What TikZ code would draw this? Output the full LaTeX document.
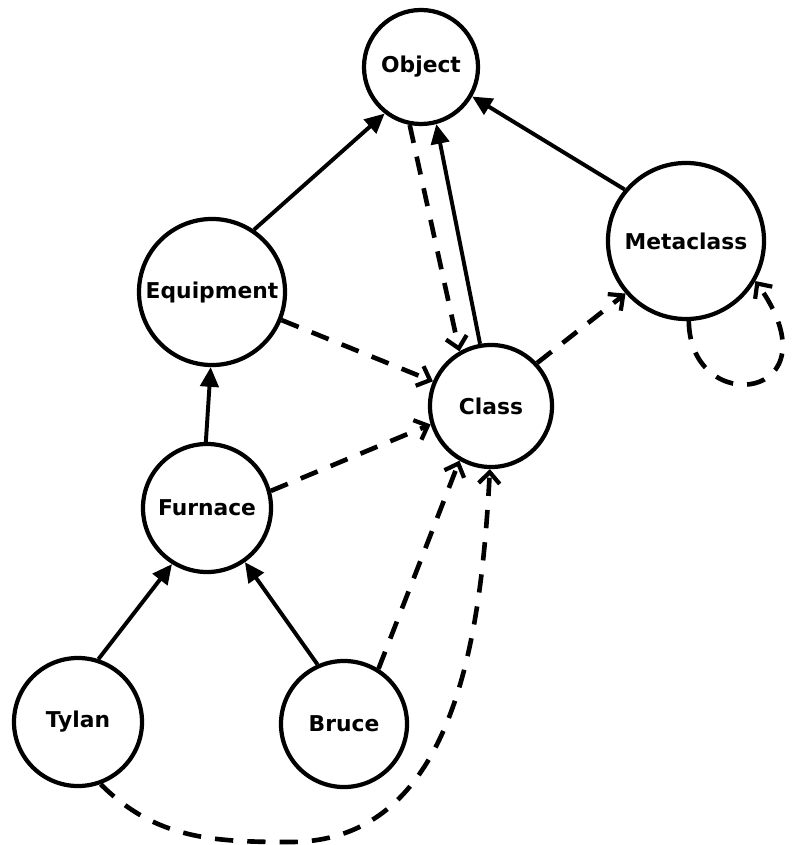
\documentclass[tikz,border=0pt]{standalone}
\usepackage{fontspec}
\setmainfont{DejaVu Sans}
\usetikzlibrary{arrows.meta}

\begin{document}
\begin{tikzpicture}[
    x=0.025cm, y=-0.025cm,
    state/.style={circle, draw=black, line width=3pt, inner sep=0pt, font=\fontsize{15.5}{18}\selectfont\bfseries},
    isa/.style={-{Triangle[length=14pt, width=13pt]}, line width=2.8pt},
    inst/.style={-{Straight Barb[length=8pt, width=15pt, line width=3pt]}, line width=3.3pt, dash pattern=on 13pt off 10pt}
]
\clip (0,0) rectangle (797,845);

\node[state, minimum size=2.85cm] (object) at (421,67) {Object};
\node[state, minimum size=3.9cm] (metaclass) at (686,241) {Metaclass};
\node[state, minimum size=3.65cm] (equipment) at (212,292) {Equipment};
\node[state, minimum size=3.05cm] (class) at (491,406) {Class};
\node[state, minimum size=3.2cm] (furnace) at (207,508) {Furnace};
\node[state, minimum size=3.2cm] (tylan) at (78,722) {Tylan};
\node[state, minimum size=3.15cm] (bruce) at (344,724) {Bruce};

% subclass links
\draw[isa] (equipment.56) -- (object.-128);
\draw[isa] (class.100) -- (object.-75);
\draw[isa] (metaclass.140) -- (object.-30);
\draw[isa] (furnace.91) -- (equipment.-91);
\draw[isa] (tylan.72) -- (furnace.-122);
\draw[isa] (bruce.114) -- (furnace.-55);

% instance links
\draw[inst] (object.-101) -- (class.120);
\draw[inst] (equipment.-22) -- (class.157);
\draw[inst] (furnace.15) -- (class.197);
\draw[inst] (bruce.58) -- (class.-120);
\draw[inst] (tylan.-70) to[out=-45, in=180] (290,842) to[out=0, in=-93] (class.-91);
\draw[inst] (class.43) -- (metaclass.-139);
\draw[inst] (metaclass.-88) .. controls (690,420) and (840,400) .. (metaclass.-30);
\end{tikzpicture}
\end{document}
